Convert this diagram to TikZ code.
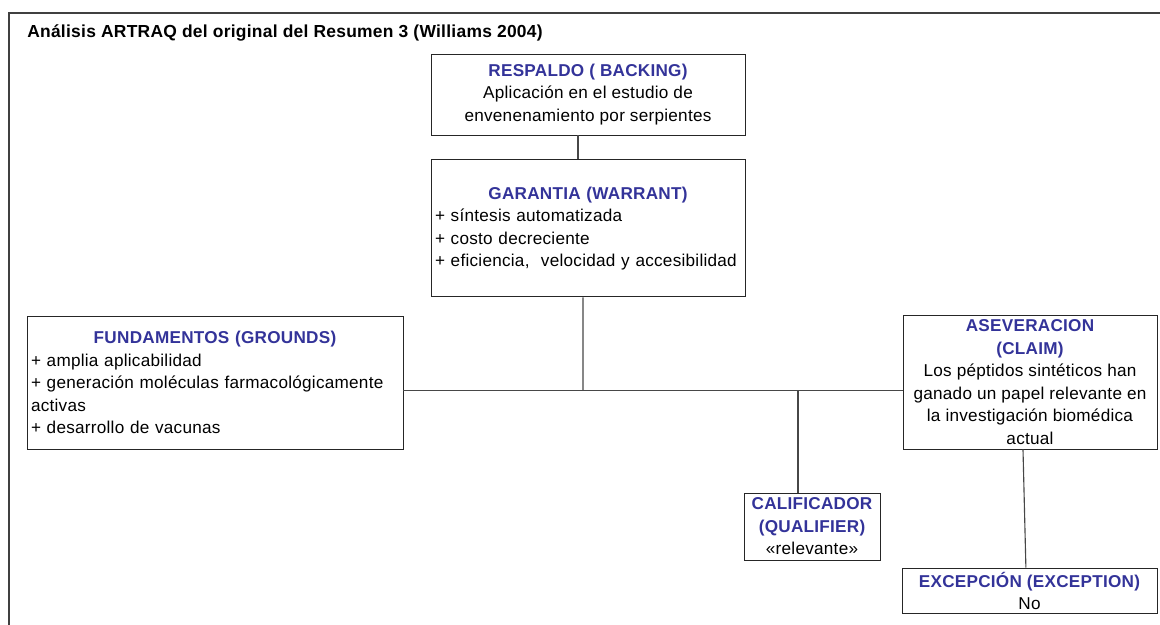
\documentclass[tikz,border=0pt]{standalone}
\usepackage{fontspec}
\setmainfont[LetterSpace=1.5]{Liberation Sans}
\usetikzlibrary{positioning,calc}
\definecolor{artBlue}{HTML}{333399}
\definecolor{artFrame}{HTML}{404040}
\newcommand{\rolehead}[1]{{\color{artBlue}\bfseries #1}}
\tikzset{
  part/.style={draw=black!85,line width=0.7pt,inner sep=0.1cm,align=center,
    font=\fontsize{12.2}{16}\selectfont},
  listpart/.style={part,align=left},
  link/.style={line width=0.8pt,draw=black!72},
  frameline/.style={line width=1pt,draw=artFrame}
}
\begin{document}
\begin{tikzpicture}
  \useasboundingbox (0,0) rectangle (29,-15.625);
  \draw[frameline] (29.3,-0.325) -- (0.225,-0.325) -- (0.225,-15.8);
  \node[anchor=west,inner sep=0,font=\fontsize{12.4}{16}\selectfont\bfseries] (title) at (0.675,-0.825)
    {Análisis ARTRAQ del original del Resumen 3 (Williams 2004)};

  \node[part, minimum width=7.85cm, minimum height=2.025cm] (backing) at (14.7,-2.3625)
    {\rolehead{RESPALDO ( BACKING)}\\Aplicación en el estudio de\\envenenamiento por serpientes};
  \node[listpart, text width=7.65cm, minimum height=3.425cm, below=0.6cm of backing] (warrant)
    {{\centering\rolehead{GARANTIA (WARRANT)}\par}
     + síntesis automatizada\\+ costo decreciente\\+ eficiencia,\ \ velocidad y accesibilidad};
  \node[listpart, text width=9.2cm, minimum height=3.325cm] (grounds) at (5.375,-9.5625)
    {{\centering\rolehead{FUNDAMENTOS (GROUNDS)}\par}
     + amplia aplicabilidad\\+ generación moléculas farmacológicamente\\activas\\+ desarrollo de vacunas};
  \node[part, minimum width=6.35cm, minimum height=3.35cm] (claim) at (25.75,-9.55)
    {\rolehead{ASEVERACION}\\\rolehead{(CLAIM)}\\Los péptidos sintéticos han\\ganado un papel relevante en\\la investigación biomédica\\actual};
  \node[part, minimum width=3.4cm, minimum height=1.675cm] (qualifier) at (20.3,-13.1625)
    {\rolehead{CALIFICADOR}\\\rolehead{(QUALIFIER)}\\«relevante»};
  \node[part, minimum width=6.375cm, minimum height=1.1cm] (exception) at (25.7375,-14.775)
    {\rolehead{EXCEPCIÓN (EXCEPTION)}\\No};

  \coordinate (hub) at (14.575,-9.75);

  \draw[link] ([xshift=-0.25cm]backing.south) -- ([xshift=-0.25cm]warrant.north);
  \draw[link] ([xshift=-0.125cm]warrant.south) -- (hub);
  \draw[link] ([yshift=-0.19cm]grounds.east) -- ([yshift=-0.19cm]grounds.east -| claim.west);
  \draw[link] ([xshift=-0.35cm]qualifier.north) -- ([xshift=-0.35cm]qualifier.north |- hub);
  \draw[link] ([xshift=-0.175cm]claim.south) -- ([xshift=-0.09cm]exception.north);
\end{tikzpicture}
\end{document}
